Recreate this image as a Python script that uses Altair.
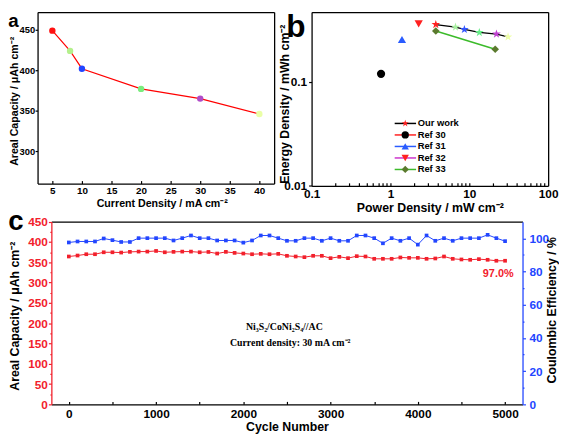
import altair as alt
import pandas as pd

# ---------------- data ----------------
# (a) rate capability
A_CURRENT = [5, 8, 10, 20, 30, 40]
A_CAPACITY = [449, 424, 402, 377, 365, 346]

# (b) Ragone plot
OUR_POWER = [3.76, 6.68, 8.66, 13.4, 22.1, 31.0]
OUR_ENERGY = [0.358, 0.338, 0.321, 0.300, 0.290, 0.272]
REF_NAMES = ["Ref 30", "Ref 31", "Ref 32"]
REF_POWER = [0.76, 1.40, 2.28]
REF_ENERGY = [0.120, 0.257, 0.363]
REF33_POWER = [3.76, 21.3]
REF33_ENERGY = [0.310, 0.207]
LEGEND_NAMES = ["Our work", "Ref 30", "Ref 31", "Ref 32", "Ref 33"]

# (c) cycling stability
CYCLES = list(range(0, 5001, 100))
CAPACITY = [364.3, 366.7, 369.9, 369.9, 374.7, 374.7, 374.0, 375.7, 376.4, 376.4,
            378.0, 374.7, 375.7, 376.4, 376.4, 374.7, 375.5, 371.6, 375.7, 373.2,
            371.6, 369.9, 370.8, 369.9, 370.8, 366.0, 364.3, 362.6, 366.0, 366.0,
            360.2, 363.5, 360.2, 365.1, 364.3, 358.6, 358.6, 358.6, 361.9, 361.0,
            361.0, 358.6, 359.4, 364.3, 358.6, 357.0, 356.2, 357.8, 356.2, 353.8, 353.8]
EFFICIENCY = [97.5, 98.1, 98.1, 98.1, 99.9, 98.9, 97.8, 97.8, 100.1, 100.1,
              100.1, 100.1, 98.7, 100.1, 101.7, 100.1, 100.1, 98.7, 98.7, 98.7,
              97.4, 98.7, 101.7, 101.7, 100.1, 98.5, 98.5, 100.1, 100.1, 98.5,
              100.1, 98.5, 98.5, 101.7, 101.7, 100.1, 97.0, 100.1, 98.5, 100.1,
              96.2, 101.7, 98.5, 100.1, 98.5, 100.1, 100.1, 100.1, 102.1, 100.1, 98.3]
C_NOTES = ["Ni\u2083S\u2082/CoNi\u2082S\u2084//AC", "Current density: 30 mA cm\u207b\u00b2"]
C_NOTE_X = [2470, 2537]
C_NOTE_Y = [190, 150.6]
RETENTION = ["97.0%"]
RETENTION_X = [4921]
RETENTION_Y = [322]

# ---------------- styles ----------------
FONT = "Liberation Sans"
SERIF = "Liberation Serif"
RED = "#f2202c"
BLUE = "#2346ff"
STAR = ("M0,-1L0.2245,-0.309L0.951,-0.309L0.363,0.118L0.588,0.809L0,0.382"
        "L-0.588,0.809L-0.363,0.118L-0.951,-0.309L-0.2245,-0.309Z")
A_COLORS = ["#ff1010", "#b4f08c", "#2244ff", "#7aec7e", "#b04cc8", "#eaffa6"]
OUR_COLORS = ["#ff2020", "#a8f0a0", "#3355ff", "#66ee88", "#c040d0", "#eeffaa"]
REF_SHAPES = ["circle", "triangle-up", "triangle-down"]
REF_COLORS = ["#000000", "#2a5cff", "#ff2020"]
R33_LINE = "#3cbb2a"
R33_MARK = "#5b7a2e"
LEG_LINE = ["#000000", "#ff2020", "#2a5cff", "#cc33cc", R33_LINE]
LEG_MARK = ["#ff2020", "#000000", "#2a5cff", "#ff2020", R33_MARK]
LEG_SHAPE = [STAR, "circle", "triangle-up", "triangle-down", "diamond"]

W, H = 518, 398  # whole drawing area (pixels)


def lin(domain, rng):
    return alt.Scale(domain=domain, range=rng, nice=False, zero=False)


def logs(domain, rng):
    return alt.Scale(type="log", domain=domain, range=rng, nice=False)


def frame(orient, offset, color="black"):
    return alt.Axis(orient=orient, offset=offset, labels=False, ticks=False,
                    title=None, domainColor=color, grid=False)


def inward(orient, offset, values, size=3):
    return alt.Axis(orient=orient, offset=offset, labels=False, domain=False,
                    ticks=True, tickSize=size, values=values, title=None, grid=False)


def label(t, x, y, size, baseline="top"):
    return alt.Chart(pd.DataFrame({"t": [t]})).mark_text(
        font=FONT, fontWeight="bold", fontSize=size, align="left",
        baseline=baseline, color="black").encode(
        x=alt.value(x), y=alt.value(y), text="t:N")


# ---------------- panel a ----------------
A_BOT, A_RIGHT = 174, 240
ax_s = lin([2.5, 42.5], [0, A_RIGHT])
ay_s = lin([260, 472], [A_BOT, 0])
a_df = pd.DataFrame({"j": A_CURRENT, "cap": A_CAPACITY, "col": A_COLORS})
A_XT = [5, 10, 15, 20, 25, 30, 35, 40]

a_line = alt.Chart(a_df).mark_line(color="#ff0000", strokeWidth=1.2).encode(
    x=alt.X("j:Q", scale=ax_s, axis=alt.Axis(
        orient="bottom", offset=A_BOT - H, values=A_XT, ticks=False, labelPadding=2,
        labelFontSize=10, title="Current Density / mA cm\u207b\u00b2", titleFontSize=10.8,
        titleX=126, titleY=14, titleBaseline="top")),
    y=alt.Y("cap:Q", scale=ay_s, axis=alt.Axis(
        orient="left", offset=0, values=[300, 350, 400, 450], tickSize=2.5, labelPadding=0.5,
        labelFontSize=9.5, title="Areal Capacity / \u03bcAh cm\u207b\u00b2", titleFontSize=10.8,
        titleAngle=270, titleBaseline="top", titleX=-29.7, titleY=90)))
a_pts = alt.Chart(a_df).mark_circle(size=42, opacity=1).encode(
    x=alt.X("j:Q", scale=ax_s, axis=frame("top", 0)),
    y=alt.Y("cap:Q", scale=ay_s, axis=frame("right", A_RIGHT - W)),
    color=alt.Color("col:N", scale=None))
a_tk = alt.Chart(a_df).mark_point(opacity=0).encode(
    x=alt.X("j:Q", scale=ax_s, axis=inward("bottom", A_BOT - 3 - H, A_XT)),
    y=alt.Y("cap:Q", scale=ay_s, axis=None))

# ---------------- panel b ----------------
B_LEFT, B_BOT = 278, 176.3
bx_s = logs([0.1, 100], [B_LEFT, W])
by_s = logs([0.01, 0.472], [B_BOT, 0])
our_df = pd.DataFrame({"p": OUR_POWER, "e": OUR_ENERGY, "col": OUR_COLORS})
ref_df = pd.DataFrame({"p": REF_POWER, "e": REF_ENERGY, "n": REF_NAMES,
                       "shp": REF_SHAPES, "col": REF_COLORS})
r33_df = pd.DataFrame({"p": REF33_POWER, "e": REF33_ENERGY})
B_MINOR = [m * d for d in (0.1, 1, 10) for m in range(2, 10)] + [1, 10]

b_line = alt.Chart(our_df).mark_line(color="black", strokeWidth=1.3).encode(
    x=alt.X("p:Q", scale=bx_s, axis=alt.Axis(
        orient="bottom", offset=B_BOT - H, values=[0.1, 1, 10, 100], format="~g",
        ticks=False, labelPadding=2.5, labelFontSize=12,
        title="Power Density / mW cm\u207b\u00b2", titleFontSize=12.5, titleY=16,
        titleBaseline="top")),
    y=alt.Y("e:Q", scale=by_s, axis=alt.Axis(
        orient="left", offset=-B_LEFT, values=[0.01, 0.1], format="~g", tickSize=3,
        labelPadding=2, labelFontSize=12, title="Energy Density / mWh cm\u207b\u00b2",
        titleFontSize=12.5, titleAngle=270, titleBaseline="top", titleX=-33.5, titleY=93)))
b_r33_line = alt.Chart(r33_df).mark_line(color=R33_LINE, strokeWidth=1.5).encode(
    x=alt.X("p:Q", scale=bx_s, axis=None), y=alt.Y("e:Q", scale=by_s, axis=None))
b_r33_pts = alt.Chart(r33_df).mark_point(shape="diamond", filled=True, size=60,
                                         opacity=1, color=R33_MARK).encode(
    x=alt.X("p:Q", scale=bx_s, axis=None), y=alt.Y("e:Q", scale=by_s, axis=None))
b_stars = alt.Chart(our_df).mark_point(shape=STAR, filled=True, size=85, opacity=1).encode(
    x=alt.X("p:Q", scale=bx_s, axis=frame("top", 0)),
    y=alt.Y("e:Q", scale=by_s, axis=frame("right", 0)),
    color=alt.Color("col:N", scale=None))
b_refs = alt.Chart(ref_df).mark_point(filled=True, size=70, opacity=1).encode(
    x=alt.X("p:Q", scale=bx_s, axis=inward("bottom", B_BOT - 3 - H, B_MINOR)),
    y=alt.Y("e:Q", scale=by_s, axis=None),
    shape=alt.Shape("shp:N", scale=None),
    color=alt.Color("col:N", scale=None))

leg_df = pd.DataFrame({"n": LEGEND_NAMES, "lc": LEG_LINE, "mc": LEG_MARK, "shp": LEG_SHAPE})
leg_y = alt.Y("n:N", scale=alt.Scale(type="point", domain=LEGEND_NAMES,
                                      range=[113, 159.7], padding=0), axis=None)
leg_rule = alt.Chart(leg_df).mark_rule(strokeWidth=1.5).encode(
    x=alt.value(362.3), x2=alt.value(384), y=leg_y, color=alt.Color("lc:N", scale=None))
leg_pts = alt.Chart(leg_df).mark_point(filled=True, size=55, opacity=1).encode(
    x=alt.value(373), y=leg_y, shape=alt.Shape("shp:N", scale=None),
    color=alt.Color("mc:N", scale=None))
leg_txt = alt.Chart(leg_df).mark_text(font=FONT, fontWeight="bold", fontSize=9.5,
                                      align="left", baseline="middle", color="black").encode(
    x=alt.value(385.6), y=leg_y, text="n:N")

# ---------------- panel c ----------------
C_LEFT, C_RIGHT, C_TOP = 14, 492, 212.7
cx_s = lin([-200, 5200], [C_LEFT, C_RIGHT])
cl_s = lin([0, 450], [H, C_TOP])
cr_s = lin([0, 110], [H, C_TOP])
c_df = pd.DataFrame({"cycle": CYCLES, "cap": CAPACITY, "ce": EFFICIENCY})

c_red = alt.Chart(c_df).mark_line(
    color=RED, strokeWidth=1,
    point=alt.OverlayMarkDef(shape="square", size=14, filled=True, color=RED, opacity=1)).encode(
    x=alt.X("cycle:Q", scale=cx_s, axis=alt.Axis(
        orient="bottom", offset=0, values=list(range(0, 5001, 1000)), format="d", ticks=False,
        labelPadding=4.8, labelFontSize=12, title="Cycle Number", titleFontSize=12.5,
        titleY=17, titleBaseline="top")),
    y=alt.Y("cap:Q", scale=cl_s, axis=alt.Axis(
        orient="left", offset=-C_LEFT, values=list(range(0, 451, 25)),
        labelExpr="datum.value % 50 === 0 ? datum.label : ''",
        tickSize={"condition": {"test": "datum.value % 50 === 0", "value": 3}, "value": 1.5},
        labelPadding=1, labelFontSize=12, labelColor=RED, domainColor=RED, tickColor=RED,
        title="Areal Capacity / \u03bcAh cm\u207b\u00b2", titleColor="black", titleFontSize=12.5,
        titleAngle=270, titleBaseline="top", titleX=-29.7 - C_LEFT, titleY=308)))
c_blue = alt.Chart(c_df).mark_line(
    color=BLUE, strokeWidth=1,
    point=alt.OverlayMarkDef(shape="square", size=14, filled=True, color=BLUE, opacity=1)).encode(
    x=alt.X("cycle:Q", scale=cx_s, axis=frame("top", -C_TOP)),
    y=alt.Y("ce:Q", scale=cr_s, axis=alt.Axis(
        orient="right", offset=C_RIGHT - W, values=list(range(0, 101, 10)),
        labelExpr="datum.value % 20 === 0 ? datum.label : ''",
        tickSize={"condition": {"test": "datum.value % 20 === 0", "value": 3}, "value": 1.5},
        labelPadding=3.5, labelFontSize=12, labelColor=BLUE, domainColor=BLUE, tickColor=BLUE,
        title="Coulombic Efficiency / %", titleColor="black", titleFontSize=12.5,
        titleAngle=270, titleBaseline="top", titleX=23.3, titleY=302)))
c_tk = alt.Chart(c_df).mark_point(opacity=0).encode(
    x=alt.X("cycle:Q", scale=cx_s, axis=inward("bottom", -3, list(range(0, 5001, 500)))),
    y=alt.Y("cap:Q", scale=cl_s, axis=None))
note_df = pd.DataFrame({"cycle": C_NOTE_X, "cap": C_NOTE_Y, "t": C_NOTES})
c_notes = alt.Chart(note_df).mark_text(font=SERIF, fontWeight="bold", fontSize=10,
                                       align="center", baseline="middle", color="black").encode(
    x=alt.X("cycle:Q", scale=cx_s, axis=None), y=alt.Y("cap:Q", scale=cl_s, axis=None),
    text="t:N")
ret_df = pd.DataFrame({"cycle": RETENTION_X, "cap": RETENTION_Y, "t": RETENTION})
c_ret = alt.Chart(ret_df).mark_text(font=FONT, fontWeight="bold", fontSize=11,
                                    align="center", baseline="middle", color=RED).encode(
    x=alt.X("cycle:Q", scale=cx_s, axis=None), y=alt.Y("cap:Q", scale=cl_s, axis=None),
    text="t:N")

layers = [a_tk, a_line, a_pts,
          b_refs, b_line, b_r33_line, b_r33_pts, b_stars, leg_rule, leg_pts, leg_txt,
          c_tk, c_red, c_blue, c_notes, c_ret,
          label("a", -29.7, 0, 19), label("b", 252.3, 0, 32),
          label("c", -29.7, 221, 28, baseline="alphabetic")]

chart = alt.layer(*layers).resolve_scale(x="independent", y="independent").properties(
    width=W, height=H, padding=0
).configure_view(stroke=None).configure_axis(
    grid=False, labelFont=FONT, titleFont=FONT, labelFontWeight="bold",
    titleFontWeight="bold", labelColor="black", titleColor="black",
    domainColor="black", tickColor="black", domainWidth=1.3, tickWidth=1.2,
    labelFlush=False, labelOverlap=False)

chart.save("out.html", embed_options={"renderer": "svg", "actions": False})
